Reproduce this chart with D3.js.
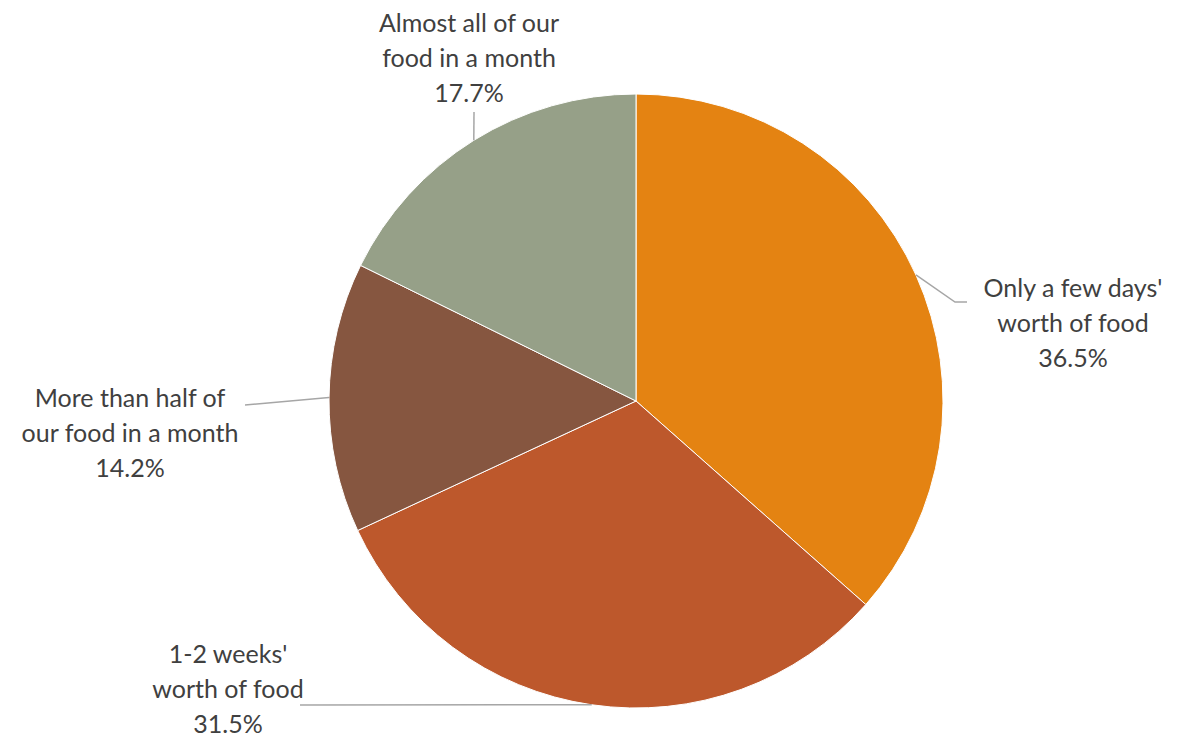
<!DOCTYPE html>
<html><head><meta charset="utf-8">
<script src="https://cdn.jsdelivr.net/npm/d3@7"></script>
<style>body{margin:0;background:#fff}svg{display:block}</style>
</head><body>
<svg id="c" width="1181" height="740"></svg>
<script>
const categories = ["Only a few days' worth of food", "1-2 weeks' worth of food", "More than half of our food in a month", "Almost all of our food in a month"];
const values = [36.5, 31.5, 14.2, 17.7];
const labelLines = [["Only a few days'", "worth of food"], ["1-2 weeks'", "worth of food"], ["More than half of", "our food in a month"], ["Almost all of our", "food in a month"]];
const colors = ["#E48312", "#BD582C", "#865640", "#96A088"];
// layout: label text centre x, first baseline y, leader elbow points
const labelLayout = [
  {x: 1073, y: 297, pts: [[955, 302], [967, 302]]},
  {x: 228, y: 663, pts: [[300, 705]]},
  {x: 130, y: 407, pts: [[245, 405]]},
  {x: 469, y: 32, pts: [[474, 112]]}
];

const svg = d3.select("#c");
const cx = 636, cy = 401, r = 307;
const g = svg.append("g").attr("transform", `translate(${cx},${cy})`);
const pie = d3.pie().sort(null).value(d => d)(values);
const arc = d3.arc().innerRadius(0).outerRadius(r);
g.selectAll("path.s").data(pie).join("path").attr("class", "s")
  .attr("d", arc).attr("fill", (d, i) => colors[i])
  .attr("stroke", "#fff").attr("stroke-width", 1);

pie.forEach((d, i) => {
  const a = (d.startAngle + d.endAngle) / 2;
  const p0 = [cx + r * Math.sin(a), cy - r * Math.cos(a)];
  const L = labelLayout[i];
  const pts = [p0, ...L.pts];
  svg.append("path").attr("d", d3.line()(pts)).attr("fill", "none")
    .attr("stroke", "#A6A6A6").attr("stroke-width", 1.5);
  const t = svg.append("text").attr("text-anchor", "middle")
    .attr("font-family", "Lato, 'Open Sans', sans-serif").attr("font-size", 25)
    .attr("fill", "#404040");
  const lines = [...labelLines[i], values[i].toFixed(1) + "%"];
  lines.forEach((s, k) => t.append("tspan").attr("x", L.x).attr("y", L.y + k * 35).text(s));
});
</script>
</body></html>
